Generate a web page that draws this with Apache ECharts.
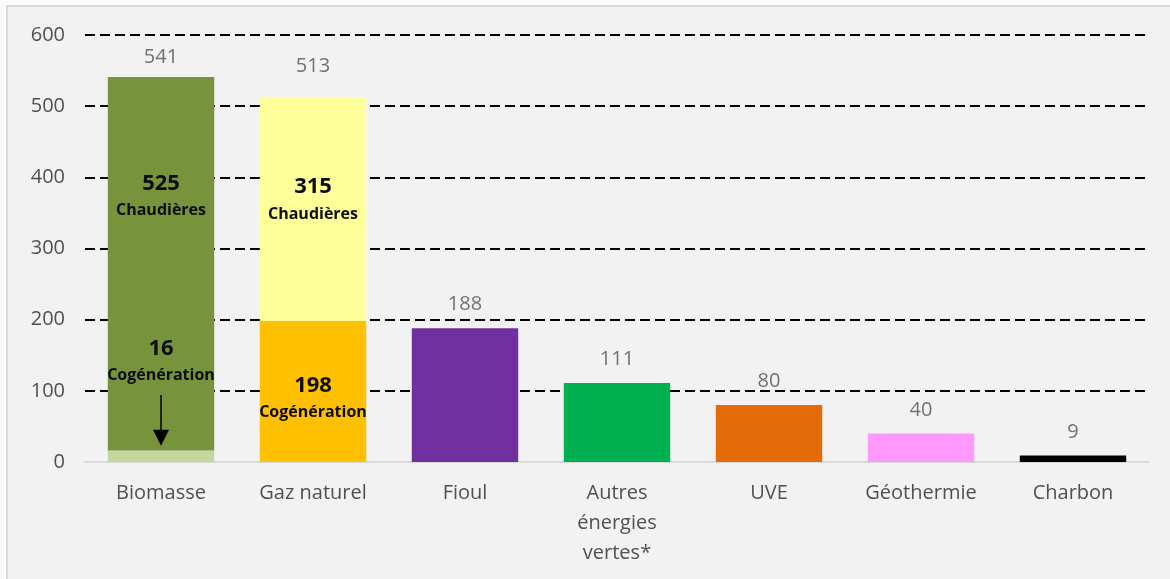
<!DOCTYPE html>
<html>
<head>
<meta charset="utf-8">
<script src="https://cdn.jsdelivr.net/npm/echarts@6/dist/echarts.min.js"></script>
<style>
  html, body { margin: 0; padding: 0; background: #fafafa; }
  #wrap { position: absolute; left: 0; top: 0; width: 1170px; height: 579px; background: #fafafa; overflow: hidden; }
  #frame { position: absolute; left: 6px; top: 5px; right: -2px; bottom: -2px; border-left: 2px solid #d9d9d9; border-top: 2px solid #d9d9d9; background: #f2f2f2; }
  #chart { position: absolute; left: 0; top: 0; width: 1170px; height: 579px; }
</style>
</head>
<body>
<div id="wrap">
  <div id="frame"></div>
  <div id="chart"></div>
</div>
<script>
// ---- Data ----
const categories = ['Biomasse', 'Gaz naturel', 'Fioul', 'Autres\nénergies\nvertes*', 'UVE', 'Géothermie', 'Charbon'];
const cogeneration = [16, 198, null, null, null, null, null];
const chaudieres = [525, 315, null, null, null, null, null];
const production = [null, null, 188, 111, 80, 40, 9];
const yTicks = [0, 100, 200, 300, 400, 500, 600];
const arrowFromTo = [94, 34]; // arrow from "16 Cogénération" label down to the thin segment

// ---- Colours ----
const cogenColors = ['#c4d79b', '#ffc000'];
const chaudColors = ['#77933c', '#ffff99'];
const prodColors = [null, null, '#7030a0', '#00b050', '#e36c09', '#ff99ff', '#000000'];

const totals = categories.map((c, i) => (cogeneration[i] || 0) + (chaudieres[i] || 0) + (production[i] || 0));

const FONT = '"Open Sans", "Liberation Sans", sans-serif';
const TEXT_GRAY = '#505050';
const rich = {
  a: { fontFamily: FONT, fontSize: 22, fontWeight: 'bold', color: '#0d0d0d', lineHeight: 28, align: 'center' },
  b: { fontFamily: FONT, fontSize: 16, fontWeight: 'bold', color: '#0d0d0d', lineHeight: 26, align: 'center' }
};

const chart = echarts.init(document.getElementById('chart'), null, { renderer: 'canvas' });

const option = {
  backgroundColor: 'transparent',
  animation: false,
  grid: { left: 85, right: 21, top: 35, bottom: 117, containLabel: false },
  xAxis: {
    type: 'category',
    data: categories,
    axisLine: { show: true, lineStyle: { color: '#d9d9d9', width: 2 } },
    axisTick: { show: false },
    axisLabel: { color: TEXT_GRAY, fontFamily: FONT, fontSize: 20, lineHeight: 30, margin: 16, interval: 0 },
    splitLine: { show: false }
  },
  yAxis: {
    type: 'value',
    min: yTicks[0],
    max: yTicks[yTicks.length - 1],
    interval: 100,
    axisLine: { show: false },
    axisTick: { show: false },
    axisLabel: { color: TEXT_GRAY, fontFamily: FONT, fontSize: 20, margin: 20 },
    splitLine: { show: true, showMinLine: false, lineStyle: { color: '#000', width: 2, type: [10, 5] } }
  },
  series: [
    {
      name: 'Cogénération',
      type: 'bar',
      stack: 'total',
      barCategoryGap: '30%',
      data: cogeneration.map((v, i) => {
        if (v == null) return '-';
        const item = { value: v, itemStyle: { color: cogenColors[i] } };
        if (i === 0) {
          item.label = { show: true, position: 'top', distance: 62, formatter: '{a|' + v + '}\n{b|Cogénération}', rich: rich };
        } else {
          item.label = { show: true, position: ['50%', '55%'], align: 'center', verticalAlign: 'middle', formatter: '{a|' + v + '}\n{b|Cogénération}', rich: rich };
        }
        return item;
      }),
      markLine: {
        silent: true,
        symbol: ['none', 'triangle'],
        symbolSize: [16, 16],
        label: { show: false },
        lineStyle: { color: '#000', width: 1.5, type: 'solid' },
        data: [[{ coord: [categories[0], arrowFromTo[0]] }, { coord: [categories[0], arrowFromTo[1]] }]]
      }
    },
    {
      name: 'Chaudières',
      type: 'bar',
      stack: 'total',
      data: chaudieres.map((v, i) => {
        if (v == null) return '-';
        return {
          value: v,
          itemStyle: { color: chaudColors[i] },
          label: { show: true, position: ['50%', i === 0 ? '32%' : '46%'], align: 'center', verticalAlign: 'middle', formatter: '{a|' + v + '}\n{b|Chaudières}', rich: rich }
        };
      })
    },
    {
      name: 'Production',
      type: 'bar',
      stack: 'total',
      data: production.map((v, i) => (v == null ? '-' : { value: v, itemStyle: { color: prodColors[i] } }))
    },
    {
      name: 'Total',
      type: 'scatter',
      symbolSize: 1,
      itemStyle: { color: 'rgba(0,0,0,0)' },
      data: totals.map((v, i) => {
        // first two totals sit slightly differently in the original
        if (i === 0) return { value: v, label: { distance: 9 } };
        if (i === 1) return { value: v, label: { distance: 20 } };
        return v;
      }),
      label: { show: true, position: 'top', distance: 13, color: TEXT_GRAY, fontFamily: FONT, fontSize: 20 },
      z: 5
    }
  ]
};

chart.setOption(option);
</script>
</body>
</html>
